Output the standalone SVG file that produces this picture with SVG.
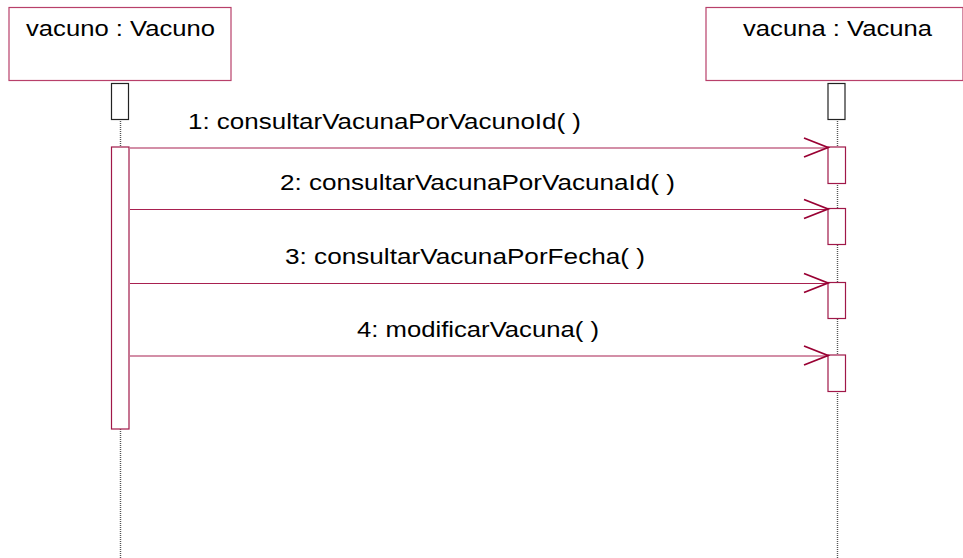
<svg xmlns="http://www.w3.org/2000/svg" width="963" height="558" viewBox="0 0 963 558">
  <style>
    .obj { fill: #ffffff; stroke: #b8406a; stroke-width: 1.2; }
    .head { fill: #ffffff; stroke: #222222; stroke-width: 1.2; }
    .act { fill: #ffffff; stroke: #a01848; stroke-width: 1.2; }
    .life { stroke: #555555; stroke-width: 1.4; stroke-dasharray: 1 1; fill: none; }
    .msg { stroke: #a82050; stroke-width: 1.2; fill: none; }
    .ah { stroke: #990033; stroke-width: 1.8; fill: none; }
    text { font-family: "Liberation Sans", Arial, sans-serif; font-size: 21.5px; fill: #000000; }
  </style>
  <rect width="963" height="558" fill="#ffffff"/>
  <g id="lifelines">
    <line class="life" x1="120.5" y1="119" x2="120.5" y2="558"/>
    <line class="life" x1="837.5" y1="119" x2="837.5" y2="558"/>
  </g>
  <g id="vacuno">
    <rect class="obj" x="9" y="7.5" width="222" height="73"/>
    <text x="26" y="36" textLength="189" lengthAdjust="spacingAndGlyphs">vacuno : Vacuno</text>
    <rect class="head" x="111.5" y="83.5" width="17" height="36"/>
    <rect class="act" x="111.5" y="147" width="17.5" height="282"/>
  </g>
  <g id="vacuna">
    <rect class="obj" x="706" y="7.5" width="257" height="73"/>
    <text x="743" y="36" textLength="189" lengthAdjust="spacingAndGlyphs">vacuna : Vacuna</text>
    <rect class="head" x="828" y="83.5" width="17" height="36"/>
    <rect class="act" x="828" y="147" width="17.5" height="36.5"/>
    <rect class="act" x="828" y="208.5" width="17.5" height="36"/>
    <rect class="act" x="828" y="282.5" width="17.5" height="36"/>
    <rect class="act" x="828" y="355" width="17.5" height="36.5"/>
  </g>
  <g id="connectors">
    <g id="m1">
      <line class="msg" x1="130" y1="148" x2="828" y2="148"/>
      <polyline class="ah" points="804,138 828,147.5 804,157"/>
      <text x="188" y="129" textLength="393" lengthAdjust="spacingAndGlyphs">1: consultarVacunaPorVacunoId( )</text>
    </g>
    <g id="m2">
      <line class="msg" x1="130" y1="209.5" x2="828" y2="209.5"/>
      <polyline class="ah" points="804,199.5 828,209 804,218.5"/>
      <text x="280" y="190" textLength="395" lengthAdjust="spacingAndGlyphs">2: consultarVacunaPorVacunaId( )</text>
    </g>
    <g id="m3">
      <line class="msg" x1="130" y1="283.5" x2="828" y2="283.5"/>
      <polyline class="ah" points="804,273.5 828,283 804,292.5"/>
      <text x="285" y="264" textLength="360" lengthAdjust="spacingAndGlyphs">3: consultarVacunaPorFecha( )</text>
    </g>
    <g id="m4">
      <line class="msg" x1="130" y1="356" x2="828" y2="356"/>
      <polyline class="ah" points="804,346 828,355.5 804,365"/>
      <text x="357" y="337" textLength="242" lengthAdjust="spacingAndGlyphs">4: modificarVacuna( )</text>
    </g>
  </g>
</svg>
